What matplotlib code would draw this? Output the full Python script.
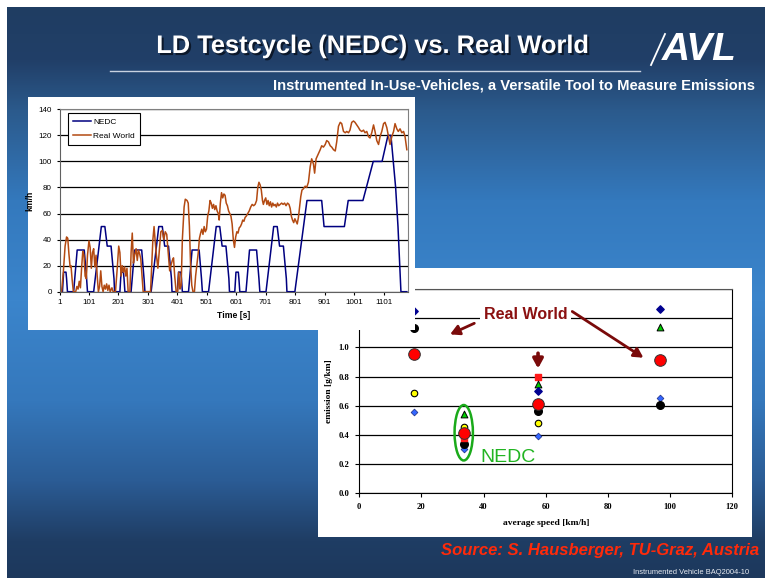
import numpy as np
import matplotlib
matplotlib.use("Agg")
import matplotlib.pyplot as plt
import matplotlib.patheffects as pe
from matplotlib.patches import Ellipse

plt.rcParams['font.family'] = ['Liberation Sans', 'DejaVu Sans']

# speed traces: NEDC breakpoints (s, km/h) and the recorded real-world run
nedc_t = [0, 11, 15, 23, 25, 28, 49, 61, 85, 93, 96, 117, 143, 155, 163, 176, 186, 188,
          195, 206, 210, 218, 220, 223, 244, 256, 280, 288, 291, 312, 338, 350, 358, 371, 381, 383,
          390, 401, 405, 413, 415, 418, 439, 451, 475, 483, 486, 507, 533, 545, 553, 566, 576, 578,
          585, 596, 600, 608, 610, 613, 634, 646, 670, 678, 681, 702, 728, 740, 748, 761, 771, 773,
          780, 800, 841, 891, 899, 968, 981, 1031, 1066, 1096, 1116, 1126, 1142, 1150, 1160, 1180]
nedc_v = [0, 0, 15, 15, 10, 0, 0, 32, 32, 10, 0, 0, 50, 50, 35, 35, 10, 0,
          0, 0, 15, 15, 10, 0, 0, 32, 32, 10, 0, 0, 50, 50, 35, 35, 10, 0,
          0, 0, 15, 15, 10, 0, 0, 32, 32, 10, 0, 0, 50, 50, 35, 35, 10, 0,
          0, 0, 15, 15, 10, 0, 0, 32, 32, 10, 0, 0, 50, 50, 35, 35, 10, 0,
          0, 0, 70, 70, 50, 50, 70, 70, 100, 100, 120, 120, 80, 50, 0, 0]

rw_t = [1, 8, 14, 20, 25, 29, 33, 37, 40, 44, 48, 56, 60, 64, 68, 72, 76, 80, 84, 88,
        92, 96, 101, 105, 109, 113, 117, 121, 125, 129, 133, 137, 141, 145, 149, 153, 157, 161, 165, 169,
        173, 179, 183, 191, 197, 202, 206, 210, 214, 218, 222, 226, 230, 234, 240, 244, 248, 252, 256, 261,
        265, 269, 273, 277, 281, 285, 310, 314, 318, 322, 326, 330, 335, 340, 345, 350, 355, 360, 365, 370,
        375, 379, 384, 388, 392, 397, 402, 406, 410, 414, 418, 424, 428, 434, 438, 442, 446, 450, 454, 459,
        463, 468, 472, 476, 480, 484, 488, 492, 496, 500, 504, 508, 512, 516, 520, 524, 528, 532, 536, 540,
        543, 547, 551, 555, 559, 563, 567, 571, 575, 579, 583, 587, 591, 595, 599, 603, 607, 611, 615, 619,
        623, 627, 631, 635, 640, 645, 650, 655, 660, 665, 670, 674, 678, 682, 686, 690, 693, 697, 701, 705,
        709, 713, 717, 721, 725, 729, 733, 737, 741, 745, 750, 755, 760, 765, 770, 775, 780, 784, 788, 792,
        796, 800, 804, 808, 812, 816, 820, 824, 829, 835, 840, 846, 852, 857, 863, 867, 872, 880, 886, 891,
        897, 903, 908, 914, 920, 925, 931, 937, 942, 948, 954, 959, 965, 971, 976, 982, 987, 993, 999, 1004,
        1010, 1016, 1021, 1027, 1033, 1038, 1044, 1050, 1055, 1061, 1067, 1072, 1078, 1084, 1089, 1095, 1101, 1106, 1112, 1118,
        1123, 1129, 1135, 1140, 1146, 1151, 1157, 1163, 1169, 1174, 1180]
rw_v = [0, 0, 15, 35, 42, 41, 29, 19, 20, 9, 0, 0, 4, 2, 8, 3, 18, 31, 28, 12,
        10, 28, 39, 34, 18, 30, 33, 19, 28, 12, 0, 4, 16, 4, 0, 5, 2, 6, 1, 5,
        0, 3, 0, 0, 18, 35, 30, 12, 20, 15, 19, 12, 18, 0, 0, 30, 45, 22, 28, 33,
        24, 32, 29, 25, 12, 0, 0, 20, 40, 50, 38, 28, 18, 32, 46, 47, 40, 46, 44, 30,
        16, 20, 24, 26, 12, 0, 0, 15, 2, 5, 40, 65, 71, 70, 68, 50, 20, 5, 0, 0,
        12, 22, 30, 41, 45, 48, 44, 50, 46, 48, 58, 62, 70, 68, 64, 67, 63, 66, 62, 60,
        55, 68, 76, 72, 75, 74, 68, 66, 62, 60, 58, 52, 40, 34, 42, 46, 45, 49, 50, 52,
        55, 54, 57, 58, 60, 62, 65, 67, 66, 67, 70, 80, 84, 82, 78, 70, 67, 70, 72, 67,
        70, 66, 69, 65, 68, 66, 67, 65, 68, 66, 67, 68, 67, 68, 66, 68, 67, 64, 58, 55,
        53, 56, 54, 52, 57, 65, 73, 78, 79, 81, 80, 84, 96, 102, 98, 91, 102, 106, 109, 112,
        111, 113, 116, 115, 112, 111, 109, 108, 115, 127, 130, 129, 123, 122, 123, 122, 124, 130, 131, 130,
        128, 126, 124, 123, 124, 122, 123, 119, 118, 122, 128, 123, 116, 113, 119, 123, 129, 130, 126, 119,
        113, 119, 123, 129, 125, 123, 125, 122, 123, 119, 109]

time_ticks = [1, 101, 201, 301, 401, 501, 601, 701, 801, 901, 1001, 1101]

# emission vs. average trip speed, one list per marker series
avg_speed = [17.7, 33.6, 57.5, 96.8]
navy_diamond = [1.25, np.nan, 0.70, 1.26]
red_square = [np.nan, 0.38, 0.795, np.nan]
green_triangle = [np.nan, 0.54, 0.747, 1.14]
black_circle = [1.13, 0.34, 0.564, 0.603]
yellow_circle = [0.685, 0.456, 0.479, np.nan]
blue_diamond = [0.559, 0.305, 0.395, 0.651]
red_circle = [0.954, 0.411, 0.614, 0.915]

W, H = 765, 578
fig = plt.figure(figsize=(W / 100, H / 100), dpi=100)


def box(x0, y0, x1, y1):
    return [x0 / W, 1 - y1 / H, (x1 - x0) / W, (y1 - y0) / H]


# slide background
bg = fig.add_axes([0, 0, 1, 1], zorder=0)
ys = np.arange(H)
stops_y = [7, 60, 110, 200, 300, 400, 480, 540, 578]
stops_c = ['#1f3d62', '#213f68', '#2b5a8c', '#3479bd', '#3b85cc', '#3578bc', '#2b5c95', '#1f3d64', '#1d385c']
rgb = np.array([matplotlib.colors.to_rgb(c) for c in stops_c])
grad = np.stack([np.interp(ys, stops_y, rgb[:, k]) for k in range(3)], axis=-1)
img = np.repeat(grad[:, None, :], W, axis=1)
img[:7, :, :] = 1.0
img[:, :7, :] = 1.0
bg.imshow(img, extent=[0, W, H, 0], aspect='auto', interpolation='bilinear')
bg.set_xlim(0, W)
bg.set_ylim(H, 0)
bg.axis('off')

bg.text(372, 46, 'LD Testcycle (NEDC) vs. Real World', color='white', fontsize=18.3,
        fontweight='bold', ha='center', va='center',
        path_effects=[pe.withSimplePatchShadow(offset=(1.5, -1.5), shadow_rgbFace='#0a1424', alpha=0.9)])
bg.plot([110, 640], [70.5, 70.5], color='#c8d2e0', lw=1.0)
bg.text(755, 86, 'Instrumented In-Use-Vehicles, a Versatile Tool to Measure Emissions',
        color='white', fontsize=10.6, fontweight='bold', ha='right', va='center')

# logo
bg.text(699, 49.5, 'AVL', color='white', fontsize=28, fontweight='bold', fontstyle='italic',
        ha='center', va='center')
bg.plot([651, 665], [65, 34], color='white', lw=1.3)

bg.text(441, 551, 'Source: S. Hausberger, TU-Graz, Austria', color='#ff2a0a', fontsize=12.0,
        fontweight='bold', fontstyle='italic', ha='left', va='center')
bg.text(633, 572, 'Instrumented Vehicle BAQ2004-10', color='#e8ecf2', fontsize=5.4,
        ha='left', va='center')

# right panel: emissions over average speed
rbox = fig.add_axes(box(318, 268, 752, 537), zorder=1)
rbox.set_facecolor('white')
rbox.set_xticks([])
rbox.set_yticks([])
for s in rbox.spines.values():
    s.set_visible(False)

ax2 = fig.add_axes(box(359.3, 289, 732.3, 493.3), zorder=2)
ax2.patch.set_alpha(0)
ax2.set_xlim(0, 120)
ax2.set_ylim(0, 1.4)
ax2.set_xticks(range(0, 121, 20))
ax2.set_yticks(np.arange(0, 1.41, 0.2))
ax2.set_yticklabels(['%.1f' % v for v in np.arange(0, 1.41, 0.2)])
ax2.yaxis.grid(True, color='black', lw=0.9)
ax2.set_axisbelow(True)
for lab in ax2.get_xticklabels() + ax2.get_yticklabels():
    lab.set_fontfamily('Liberation Serif')
    lab.set_fontweight('bold')
    lab.set_fontsize(6.2)
ax2.tick_params(length=3, width=0.8, pad=4)
ax2.spines['top'].set_color('#555555')
ax2.spines['right'].set_color('black')
ax2.set_xlabel('average speed [km/h]', fontfamily='Liberation Serif', fontweight='bold',
               fontsize=6.8, labelpad=6)
ax2.set_ylabel('emission [g/km]', fontfamily='Liberation Serif', fontweight='bold',
               fontsize=6.8, labelpad=4)

ax2.scatter(avg_speed, blue_diamond, marker='D', s=12, c='#3366ff', edgecolors='#1a2a80', lw=0.5, zorder=3)
ax2.scatter(avg_speed, yellow_circle, marker='o', s=22, c='#ffff00', edgecolors='black', lw=0.8, zorder=3)
ax2.scatter(avg_speed, black_circle, marker='o', s=30, c='black', zorder=3)
ax2.scatter(avg_speed, red_square, marker='s', s=16, c='#ff1a1a', zorder=3)
ax2.scatter(avg_speed, red_circle, marker='o', s=70, c='#ff0000', edgecolors='#333333', lw=0.7, zorder=4)
ax2.scatter(avg_speed, green_triangle, marker='^', s=24, c='#00cc00', edgecolors='black', lw=0.7, zorder=3)
ax2.scatter(avg_speed, navy_diamond, marker='D', s=14, c='#000090', zorder=3)

ax2.add_patch(Ellipse((avg_speed[1], 0.415), 5.9, 0.38, fill=False, ec='#1aaa1a', lw=1.8, zorder=5))
ax2.text(38.8, 0.244, 'NEDC', color='#22b422', fontsize=14, ha='left', va='center')

arrow = dict(arrowstyle='-|>,head_length=0.55,head_width=0.3', color='#7a0a0a', lw=2.0,
             shrinkA=0, shrinkB=0, mutation_scale=10)
ax2.annotate('', xy=(29.2, 1.089), xytext=(37.0, 1.165), arrowprops=arrow, zorder=5)
ax2.annotate('', xy=(91.4, 0.929), xytext=(68.5, 1.246), arrowprops=arrow, zorder=5)
ax2.annotate('', xy=(avg_speed[2], 0.855), xytext=(avg_speed[2], 0.96),
             arrowprops=dict(arrow, lw=2.6), zorder=5)
ax2.text(53.5, 1.226, 'Real World', color='#8b1010', fontsize=11.5, fontweight='bold',
         ha='center', va='center', zorder=6,
         bbox=dict(boxstyle='square,pad=0.25', fc='white', ec='none'))

# left panel: speed over time
lbox = fig.add_axes(box(28, 97, 415, 330), zorder=3)
lbox.set_facecolor('white')
lbox.set_xticks([])
lbox.set_yticks([])
for s in lbox.spines.values():
    s.set_visible(False)

ax1 = fig.add_axes(box(59.5, 109.3, 408.3, 291.7), zorder=4)
ax1.patch.set_alpha(0)
ax1.set_xlim(1, 1185)
ax1.set_ylim(0, 140)
ax1.set_xticks(time_ticks)
ax1.set_yticks(range(0, 141, 20))
ax1.yaxis.grid(True, color='black', lw=0.9)
ax1.set_axisbelow(True)
ax1.tick_params(labelsize=5.8, length=2.5, width=0.8, pad=3)
for side in ['top', 'right']:
    ax1.spines[side].set_color('#808080')
ax1.spines['left'].set_color('#606060')
ax1.spines['bottom'].set_color('#606060')
ax1.plot(nedc_t, nedc_v, color='#000080', lw=1.1, label='NEDC')
ax1.plot(rw_t, rw_v, color='#b34a12', lw=1.1, label='Real World')
ax1.set_xlabel('Time [s]', fontsize=6.2, fontweight='bold', labelpad=3)
ax1.set_ylabel('km/h', fontsize=6.2, fontweight='bold', labelpad=3)
leg = ax1.legend(loc='upper left', bbox_to_anchor=(0.011, 1.0), fontsize=6.0, fancybox=False,
                 framealpha=1, edgecolor='black', handlelength=2.2, borderpad=0.6, labelspacing=0.7,
                 handletextpad=0.3)
leg.get_frame().set_linewidth(0.8)

fig.savefig('out.png', dpi=100)
